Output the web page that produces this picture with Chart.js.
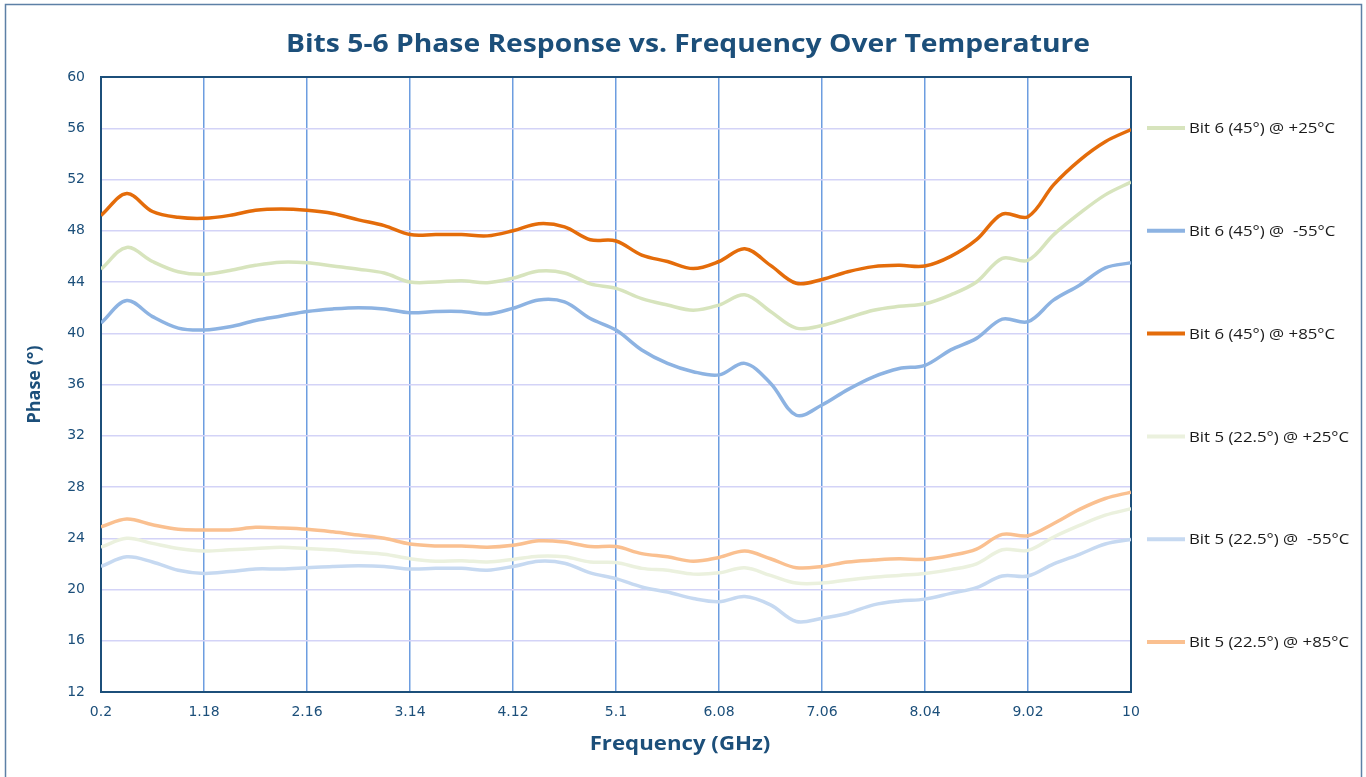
<!DOCTYPE html>
<html>
<head>
<meta charset="utf-8">
<script src="https://cdn.jsdelivr.net/npm/chart.js@4.4.1/dist/chart.umd.min.js"></script>
<style>
    html, body { margin: 0; padding: 0; background: #fff; }
    #wrap { width: 1366px; height: 777px; }
</style>
</head>
<body>
<div id="wrap"><canvas id="phaseChart"></canvas></div>
<script>
// Frecuencia (GHz) y fase
const freqGHz = [0.2, 0.445, 0.69, 0.935, 1.18, 1.425, 1.67, 1.915, 2.16, 2.405, 2.65, 2.895, 3.14, 3.385,
    3.63, 3.875, 4.12, 4.365, 4.61, 4.855, 5.1, 5.345, 5.59, 5.835, 6.08, 6.325, 6.57, 6.815, 7.06, 7.305,
    7.55, 7.795, 8.04, 8.285, 8.53, 8.775, 9.02, 9.265, 9.51, 9.755, 10];
const xTicks = [0.2, 1.18, 2.16, 3.14, 4.12, 5.1, 6.08, 7.06, 8.04, 9.02, 10];

const bit6At25 = [45.0, 46.7, 45.6, 44.8, 44.6, 44.9, 45.3, 45.55, 45.5, 45.25, 45.0, 44.7, 44.0, 44.0,
    44.1, 43.95, 44.3, 44.85, 44.7, 43.85, 43.5, 42.7, 42.2, 41.8, 42.2, 43.0, 41.7, 40.4, 40.6, 41.2,
    41.8, 42.1, 42.3, 43.0, 44.0, 45.85, 45.7, 47.7, 49.35, 50.8, 51.8];
const bit6AtM55 = [40.8, 42.55, 41.3, 40.4, 40.25, 40.5, 41.0, 41.35, 41.7, 41.9, 42.0, 41.9, 41.6, 41.7,
    41.7, 41.5, 41.95, 42.6, 42.45, 41.15, 40.25, 38.7, 37.65, 37.0, 36.75, 37.65, 36.1, 33.6, 34.4, 35.6,
    36.6, 37.25, 37.5, 38.7, 39.6, 41.1, 40.9, 42.6, 43.75, 45.1, 45.5];
const bit6At85 = [49.2, 50.9, 49.5, 49.05, 48.97, 49.2, 49.6, 49.7, 49.6, 49.35, 48.85, 48.4, 47.7, 47.7,
    47.7, 47.6, 48.0, 48.55, 48.3, 47.3, 47.2, 46.1, 45.6, 45.05, 45.6, 46.6, 45.3, 43.9, 44.2, 44.8,
    45.2, 45.3, 45.25, 46.0, 47.3, 49.3, 49.1, 51.6, 53.5, 54.95, 55.9];
const bit5At25 = [23.3, 24.0, 23.6, 23.2, 23.0, 23.1, 23.2, 23.3, 23.2, 23.1, 22.9, 22.75, 22.4, 22.2,
    22.25, 22.15, 22.35, 22.6, 22.55, 22.15, 22.1, 21.65, 21.5, 21.2, 21.3, 21.7, 21.1, 20.5, 20.5, 20.75,
    20.95, 21.1, 21.25, 21.55, 22.0, 23.1, 23.05, 24.1, 25.0, 25.8, 26.3];
const bit5AtM55 = [21.8, 22.55, 22.15, 21.5, 21.25, 21.4, 21.6, 21.6, 21.7, 21.8, 21.85, 21.8, 21.6, 21.65,
    21.65, 21.5, 21.8, 22.2, 22.05, 21.3, 20.85, 20.2, 19.8, 19.3, 19.05, 19.45, 18.8, 17.5, 17.75, 18.15,
    18.8, 19.1, 19.25, 19.7, 20.15, 21.05, 21.05, 22.0, 22.75, 23.55, 23.9];
const bit5At85 = [24.9, 25.5, 25.05, 24.7, 24.65, 24.65, 24.85, 24.8, 24.7, 24.5, 24.25, 24.0, 23.55, 23.4,
    23.4, 23.3, 23.45, 23.8, 23.7, 23.35, 23.35, 22.8, 22.55, 22.2, 22.5, 23.0, 22.4, 21.7, 21.8, 22.15,
    22.3, 22.4, 22.35, 22.65, 23.15, 24.3, 24.2, 25.15, 26.25, 27.1, 27.6];

const seriesNames = ['Bit 6 (45°) @ +25°C', 'Bit 6 (45°) @  -55°C', 'Bit 6 (45°) @ +85°C',
    'Bit 5 (22.5°) @ +25°C', 'Bit 5 (22.5°) @  -55°C', 'Bit 5 (22.5°) @ +85°C'];
const seriesData = [bit6At25, bit6AtM55, bit6At85, bit5At25, bit5AtM55, bit5At85];
const seriesColors = ['#d7e4bd', '#8db3e2', '#e46c0a', '#ebf1de', '#c6d9f1', '#fac090'];

const NAVY = '#1c4f7a';
const FONT = '"Open Sans", "DejaVu Sans", sans-serif';
const TICK_FONT = '"DejaVu Sans", sans-serif';

// el original esta estirado en horizontal: texto con escala en x
function stretchedText(ctx, text, x, y, sx) {
    ctx.save();
    ctx.translate(x, y);
    ctx.scale(sx, 1);
    ctx.fillText(text, 0, 0);
    ctx.restore();
}

// titulo, eje X y leyenda dibujados a mano
const decorPlugin = {
    id: 'decor',
    beforeDraw(chart) {
        const ctx = chart.ctx;
        ctx.save();
        ctx.strokeStyle = '#5d80a6';
        ctx.lineWidth = 1.5;
        ctx.strokeRect(5.5, 4.5, 1356, 800);
        ctx.restore();
    },
    beforeDatasetsDraw(chart) {
        const a = chart.chartArea;
        const ctx = chart.ctx;
        ctx.save();
        ctx.strokeStyle = NAVY;
        ctx.lineWidth = 2;
        ctx.strokeRect(a.left, a.top, a.right - a.left, a.bottom - a.top);
        ctx.restore();
    },
    afterDraw(chart) {
        const ctx = chart.ctx;
        ctx.save();
        ctx.fillStyle = NAVY;
        ctx.textAlign = 'center';
        ctx.textBaseline = 'middle';
        ctx.font = 'bold 25px ' + FONT;
        stretchedText(ctx, 'Bits 5-6 Phase Response vs. Frequency Over Temperature', 688, 45, 1.13);
        ctx.font = 'bold 19px ' + FONT;
        stretchedText(ctx, 'Frequency (GHz)', 680, 745, 1.17);

        // leyenda
        ctx.textAlign = 'left';
        ctx.font = '15px ' + FONT;
        seriesNames.forEach((name, i) => {
            const y = 128 + i * 102.8;
            ctx.strokeStyle = seriesColors[i];
            ctx.lineWidth = 4;
            ctx.beginPath();
            ctx.moveTo(1147, y);
            ctx.lineTo(1185, y);
            ctx.stroke();
            ctx.fillStyle = '#1a1a1a';
            stretchedText(ctx, name, 1189, y + 1, 1.12);
        });
        ctx.restore();
    }
};

const datasets = seriesData.map((vals, i) => ({
    label: seriesNames[i],
    data: freqGHz.map((f, j) => ({ x: f, y: vals[j] })),
    borderColor: seriesColors[i],
    backgroundColor: seriesColors[i],
    borderWidth: 3.5,
    pointRadius: 0,
    tension: 0.35,
    fill: false
}));

new Chart(document.getElementById('phaseChart'), {
    type: 'line',
    data: { datasets },
    plugins: [decorPlugin],
    options: {
        responsive: true,
        maintainAspectRatio: false,
        animation: false,
        layout: { padding: { top: 77, right: 235, bottom: 0, left: 0 } },
        plugins: {
            legend: { display: false },
            title: { display: false },
            tooltip: { enabled: false }
        },
        scales: {
            x: {
                type: 'linear',
                min: 0.2,
                max: 10,
                afterBuildTicks: s => { s.ticks = xTicks.map(v => ({ value: v })); },
                afterFit: s => { s.height = 85; },
                grid: { color: '#6d9de0', lineWidth: 1.5, drawTicks: false },
                border: { display: false },
                ticks: {
                    color: NAVY,
                    font: { family: TICK_FONT, size: 14 },
                    padding: 12,
                    maxRotation: 0,
                    autoSkip: false,
                    callback: v => String(v)
                }
            },
            y: {
                min: 12,
                max: 60,
                afterFit: s => { s.width = 101; },
                grid: { color: '#d3d3f7', lineWidth: 1.5, drawTicks: false },
                border: { display: false },
                ticks: {
                    stepSize: 4,
                    color: NAVY,
                    font: { family: TICK_FONT, size: 14 },
                    padding: 16
                },
                title: {
                    display: true,
                    text: 'Phase (°)',
                    color: NAVY,
                    font: { family: FONT, size: 18, weight: 'bold' },
                    padding: { top: 24, bottom: 0 }
                }
            }
        }
    }
});
</script>
</body>
</html>
